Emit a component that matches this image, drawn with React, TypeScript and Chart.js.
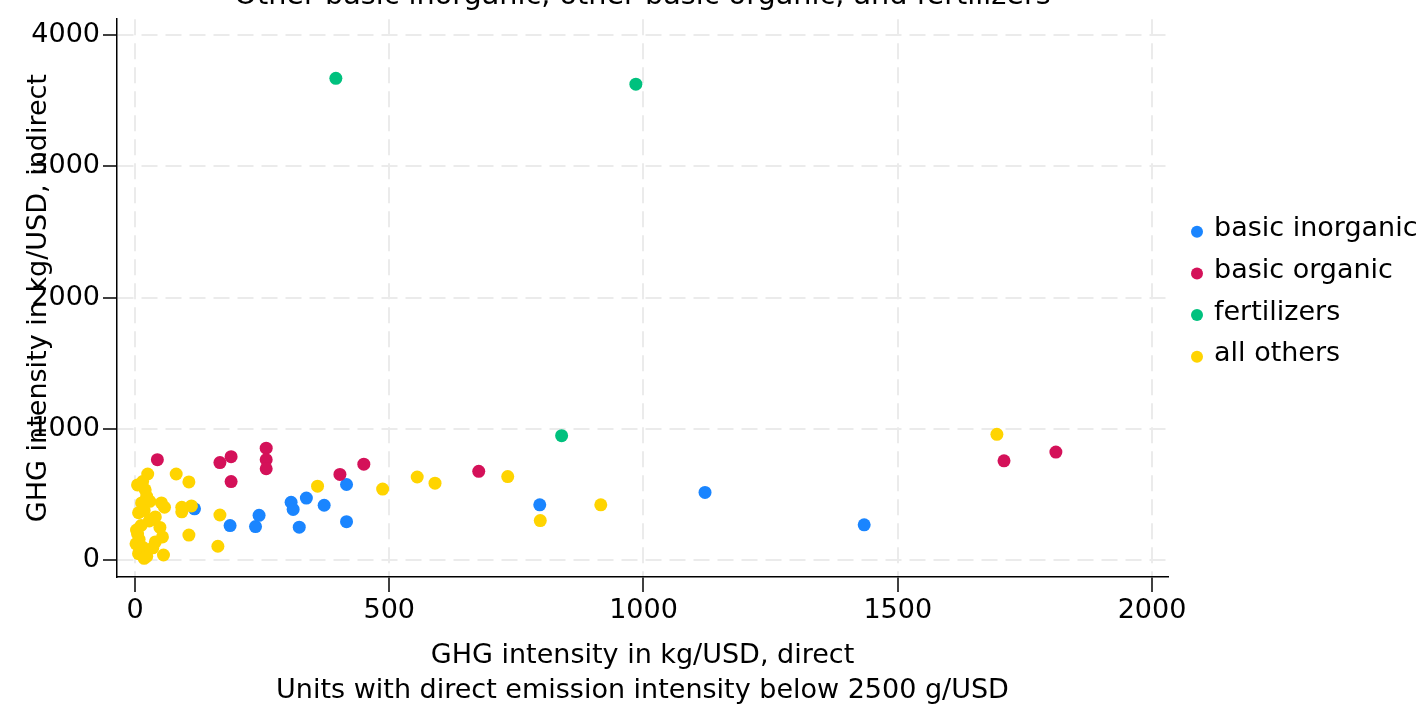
import React, { useEffect, useRef } from "react";
import { Chart, registerables } from "chart.js";

Chart.register(...registerables);

const TITLE = "Other basic inorganic, other basic organic, and fertilizers";
const X_TITLE = ["GHG intensity in kg/USD, direct", "Units with direct emission intensity below 2500 g/USD"];
const Y_TITLE = "GHG intensity in kg/USD, indirect";

const xTicks = [0, 500, 1000, 1500, 2000];
const yTicks = [0, 1000, 2000, 3000, 4000];

const seriesLabels = ["basic inorganic", "basic organic", "fertilizers", "all others"];
const seriesColors = ["#1A85FF", "#D41159", "#00C17E", "#FFD400"];

const inorganicX = [117, 187, 237, 244, 307, 311, 337, 372, 416, 416, 323, 796, 1121, 1434];
const inorganicY = [392, 264, 257, 342, 442, 387, 474, 419, 577, 294, 252, 422, 517, 270];

const organicX = [44, 167, 189, 189, 258, 258, 258, 403, 450, 676, 1709, 1811];
const organicY = [766, 744, 789, 599, 854, 766, 697, 654, 732, 677, 757, 824];

const fertilizersX = [395, 985, 839];
const fertilizersY = [3670, 3625, 949];

const othersX = [
  25, 15, 5, 20, 23, 29, 13, 52, 58, 7, 33, 18, 3, 49, 28, 54, 8, 40, 2, 15, 35, 7, 56, 23, 12, 40, 5, 18,
  81, 106, 92, 111, 92, 167, 106, 163, 359, 487, 555, 590, 733, 797, 916, 1695,
];
const othersY = [
  657, 599, 574, 537, 487, 449, 437, 437, 404, 362, 312, 380, 230, 250, 300, 178, 160, 140, 125, 100, 95, 50, 40, 30, 265, 330, 200, 15,
  657, 597, 404, 414, 369, 345, 192, 107, 564, 542, 634, 587, 637, 302, 422, 959,
];

const FONT = '"DejaVu Sans", "Liberation Sans", Arial, sans-serif';
const FS = 27;

const toPoints = (xs: number[], ys: number[]) => xs.map((x, i) => ({ x, y: ys[i] }));

const titlePlugin = {
  id: "topTitle",
  afterDraw(chart: any) {
    const { ctx, chartArea } = chart;
    ctx.save();
    ctx.font = `28.7px ${FONT}`;
    ctx.fillStyle = "#000";
    ctx.textAlign = "center";
    ctx.textBaseline = "alphabetic";
    ctx.fillText(TITLE, (chartArea.left + chartArea.right) / 2, 3.5);
    ctx.restore();
  },
};

const legendPlugin = {
  id: "sideLegend",
  afterDraw(chart: any) {
    const { ctx, chartArea } = chart;
    ctx.save();
    ctx.font = `${FS}px ${FONT}`;
    ctx.textAlign = "left";
    ctx.textBaseline = "alphabetic";
    const mx = chartArea.right + 29;
    const startY = 231.7;
    const step = 41.7;
    seriesLabels.forEach((lab, i) => {
      const cy = startY + i * step;
      ctx.fillStyle = seriesColors[i];
      ctx.beginPath();
      ctx.arc(mx, cy, 6, 0, Math.PI * 2);
      ctx.fill();
      ctx.fillStyle = "#000";
      ctx.fillText(lab, mx + 17, cy + 4.5);
    });
    ctx.restore();
  },
};

export default function App() {
  const ref = useRef<HTMLCanvasElement | null>(null);

  useEffect(() => {
    if (!ref.current) return;
    const datasets = [
      { label: seriesLabels[0], data: toPoints(inorganicX, inorganicY), color: seriesColors[0], order: 4 },
      { label: seriesLabels[1], data: toPoints(organicX, organicY), color: seriesColors[1], order: 3 },
      { label: seriesLabels[2], data: toPoints(fertilizersX, fertilizersY), color: seriesColors[2], order: 2 },
      { label: seriesLabels[3], data: toPoints(othersX, othersY), color: seriesColors[3], order: 1 },
    ].map((d) => ({
      label: d.label,
      data: d.data,
      order: d.order,
      backgroundColor: d.color,
      borderColor: d.color,
      borderWidth: 0,
      pointRadius: 6.5,
      pointHoverRadius: 6.5,
    }));

    const gridCommon = {
      color: "#ebebeb",
      lineWidth: 2,
      tickColor: "#000",
      tickWidth: 1.5,
    };
    const tickFont = { family: FONT, size: FS };
    const plain = (v: any) => String(v);

    const chart = new Chart(ref.current, {
      type: "scatter",
      data: { datasets },
      plugins: [titlePlugin, legendPlugin],
      options: {
        responsive: false,
        animation: false,
        layout: { padding: { top: 10, right: 250, bottom: 0, left: 0 } },
        plugins: {
          legend: { display: false },
          tooltip: { enabled: false },
          title: { display: false },
        },
        scales: {
          x: {
            type: "linear",
            min: -35.4,
            max: 2031.5,
            afterBuildTicks: (s: any) => {
              s.ticks = xTicks.map((v) => ({ value: v }));
            },
            afterFit: (s: any) => {
              s.height = 127;
            },
            grid: { ...gridCommon, tickLength: 15 },
            border: { display: true, color: "#000", width: 1.5, dash: [16, 8] },
            ticks: { font: tickFont, color: "#000", padding: 3, maxRotation: 0, autoSkip: false, callback: plain },
            title: {
              display: true,
              text: X_TITLE,
              color: "#000",
              font: { family: FONT, size: FS, lineHeight: 1.3 },
              padding: { top: 0, bottom: -5 },
            },
          },
          y: {
            type: "linear",
            min: -127.3,
            max: 4120,
            afterBuildTicks: (s: any) => {
              s.ticks = yTicks.map((v) => ({ value: v }));
            },
            afterFit: (s: any) => {
              s.width = 117;
            },
            grid: { ...gridCommon, tickLength: 14 },
            border: { display: true, color: "#000", width: 1.5, dash: [16, 8] },
            ticks: { font: tickFont, color: "#000", padding: 3, autoSkip: false, callback: plain },
            title: {
              display: true,
              text: Y_TITLE,
              color: "#000",
              font: { family: FONT, size: FS, lineHeight: 1.2 },
              padding: { top: 23, bottom: 0 },
            },
          },
        },
      } as any,
    });
    return () => chart.destroy();
  }, []);

  return (
    <div style={{ position: "absolute", left: 0, top: 0, width: 1418, height: 704 }}>
      <canvas ref={ref} width={1418} height={704} style={{ display: "block" }} />
    </div>
  );
}
